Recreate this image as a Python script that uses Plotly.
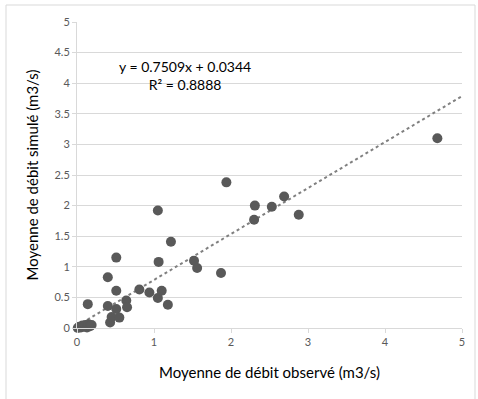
import plotly.graph_objects as go

# Observed vs simulated mean discharge (m3/s)
observed = [0.01, 0.03, 0.05, 0.07, 0.09, 0.11, 0.13, 0.15, 0.17, 0.19,
            0.14, 0.40, 0.51, 0.40, 0.43, 0.45, 0.51, 0.51, 0.55,
            0.64, 0.65, 0.81, 0.94, 1.05, 1.10, 1.18,
            1.05, 1.06, 1.22, 1.52, 1.56, 1.87,
            1.94, 2.30, 2.31, 2.53, 2.69, 2.88, 4.68]
simulated = [0.00, 0.02, 0.01, 0.04, 0.02, 0.05, 0.01, 0.06, 0.03, 0.05,
             0.39, 0.83, 1.15, 0.36, 0.09, 0.18, 0.31, 0.61, 0.17,
             0.45, 0.34, 0.63, 0.58, 0.49, 0.61, 0.38,
             1.92, 1.08, 1.41, 1.10, 0.98, 0.90,
             2.38, 1.77, 2.00, 1.98, 2.15, 1.85, 3.10]

# Linear trendline coefficients
slope = 0.7509
intercept = 0.0344
r_squared = 0.8888
trend_x = [0, 5]
trend_y = [slope * x + intercept for x in trend_x]

x_ticks = [0, 1, 2, 3, 4, 5]
y_ticks = [0, 0.5, 1, 1.5, 2, 2.5, 3, 3.5, 4, 4.5, 5]

FONT = "Lato, 'Open Sans', sans-serif"
GRID = "#d9d9d9"

fig = go.Figure()
fig.add_trace(go.Scatter(
    x=trend_x, y=trend_y, mode="lines",
    line=dict(color="#808080", width=2, dash="dot"),
    hoverinfo="skip", showlegend=False,
))
fig.add_trace(go.Scatter(
    x=observed, y=simulated, mode="markers",
    marker=dict(size=10, color="#595959", line=dict(width=0)),
    cliponaxis=False, showlegend=False,
))

fig.add_annotation(
    x=1.40, y=4.12, xref="x", yref="y",
    text=f"y = {slope}x + {intercept}<br>R² = {r_squared}",
    showarrow=False, align="center",
    font=dict(family=FONT, size=14, color="#000000"),
)

# outer chart frame
fig.add_shape(
    type="rect", xref="paper", yref="paper",
    x0=(6 - 77) / 385, x1=(475 - 77) / 385,
    y0=(328 - 420) / 306, y1=(328 - 5) / 306,
    line=dict(color=GRID, width=1), fillcolor="rgba(0,0,0,0)",
    layer="below",
)

fig.update_layout(
    width=478, height=399,
    margin=dict(l=77, r=16, t=22, b=71),
    paper_bgcolor="white", plot_bgcolor="white",
    font=dict(family=FONT),
    xaxis=dict(
        range=[0, 5], tickvals=x_ticks, showgrid=False, zeroline=False,
        showline=True, linecolor=GRID, linewidth=1,
        ticks="outside", ticklen=4, tickcolor=GRID,
        tickfont=dict(size=11, color="#595959"),
        title=dict(text="Moyenne de débit observé (m3/s)",
                   font=dict(size=15, color="#000000"), standoff=20),
        automargin=False,
    ),
    yaxis=dict(
        range=[0, 5], tickvals=y_ticks, showgrid=True, gridcolor=GRID,
        gridwidth=1, zeroline=False,
        showline=True, linecolor=GRID, linewidth=1,
        ticks="outside", ticklen=4, tickcolor=GRID,
        tickfont=dict(size=11, color="#595959"),
        title=dict(text="Moyenne de débit simulé (m3/s)",
                   font=dict(size=15, color="#000000"), standoff=12),
        automargin=False,
    ),
)

fig.write_html("out.html")
